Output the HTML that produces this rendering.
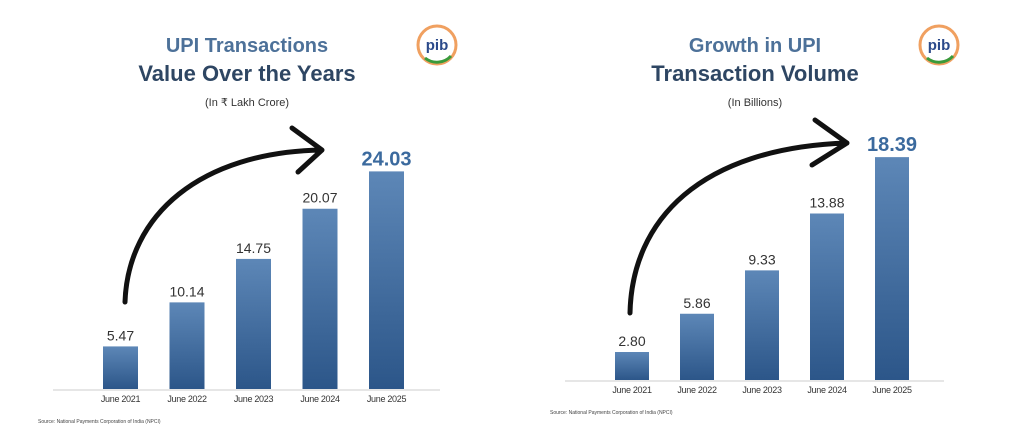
<!DOCTYPE html>
<html><head><meta charset="utf-8"><style>
body{margin:0;background:#fff;width:1024px;height:433px;overflow:hidden}
svg{display:block;font-family:"Liberation Sans",sans-serif}
</style></head><body>
<svg id="s" width="1024" height="433">
<defs><linearGradient id="g" x1="0" y1="0" x2="0" y2="1"><stop offset="0" stop-color="#5d87b7"/><stop offset="1" stop-color="#2c5689"/></linearGradient></defs>
</svg>
<script>
const categories=["June 2021","June 2022","June 2023","June 2024","June 2025"];
const valueSeries=[5.47,10.14,14.75,20.07,24.03];
const valueLabels=["5.47","10.14","14.75","20.07","24.03"];
const volumeSeries=[2.80,5.86,9.33,13.88,18.39];
const volumeLabels=["2.80","5.86","9.33","13.88","18.39"];
const NS="http://www.w3.org/2000/svg";
const svg=document.getElementById('s');
function mk(tag,attrs,parent,text){const e=document.createElementNS(NS,tag);for(const k in attrs)e.setAttribute(k,attrs[k]);if(text!==undefined)e.textContent=text;(parent||svg).appendChild(e);return e;}
function chart(cfg){
  const g=mk('g',{});
  
  
  const y=v=>cfg.zero-v*cfg.k;
  const x=i=>cfg.x0+i*cfg.step;
  const t1=mk('text',{x:cfg.cx,y:52,'text-anchor':'middle','font-size':20,'font-weight':'bold',fill:'#4d7199'},g,cfg.t1);
  
  
  const t2=mk('text',{x:cfg.cx,y:81,'text-anchor':'middle','font-size':22,'font-weight':'bold',fill:'#2e4663'},g,cfg.t2);
  
  
  const t3=mk('text',{x:cfg.cx,y:106,'text-anchor':'middle','font-size':11,fill:'#333'},g,cfg.t3);
  
  
  const ax=mk('line',{x1:cfg.ax0,x2:cfg.ax1,y1:cfg.base+1,y2:cfg.base+1,stroke:'#ccc','stroke-width':1},g);
  
  
  cfg.vals.forEach((v,i)=>{
    const b=mk('rect',{x:x(i),y:y(v),width:cfg.bw,height:cfg.base-y(v),fill:'url(#g)'},g);
    
    
    const last=i===cfg.vals.length-1;
    const l=mk('text',{x:x(i)+cfg.bw/2,y:y(v)-6,'text-anchor':'middle','font-size':last?20:14,'font-weight':last?'bold':'normal',fill:last?'#3b6a9e':'#333'},g,cfg.labels[i]);
    
    
    const c=mk('text',{x:x(i)+cfg.bw/2,y:cfg.base+13,'text-anchor':'middle','font-size':9,fill:'#333','letter-spacing':'-0.3'},g,categories[i]);
    
    
  });
  const a=mk('path',{d:cfg.arrow,fill:'none',stroke:'#111','stroke-width':5,'stroke-linecap':'round','stroke-linejoin':'round'},g);
  
  
  const src=mk('text',{x:cfg.ax0-15,y:cfg.base+34,'font-size':5,fill:'#444'},g,'Source: National Payments Corporation of India (NPCI)');
  
  
  const lg=mk('g',{},g);
  
  
  mk('circle',{cx:cfg.lx,cy:45,r:19,fill:'#fff',stroke:'#f0a060','stroke-width':3},lg);
  mk('path',{d:`M${cfg.lx-12},58 A19 19 0 0 0 ${cfg.lx+14},56`,fill:'none',stroke:'#3a9a3a','stroke-width':3},lg);
  mk('text',{x:cfg.lx,y:50,'text-anchor':'middle','font-size':15,'font-weight':'bold',fill:'#2b4a8a'},lg,'pib');
}
chart({name:'value-chart',vals:valueSeries,labels:valueLabels,zero:398,k:9.43,base:389,x0:103,step:66.5,bw:35,cx:247,ax0:53,ax1:440,
  t1:'UPI Transactions',t2:'Value Over the Years',t3:'(In ₹ Lakh Crore)',lx:437,
  arrow:'M125,302 C128,215 200,152 322,150 M292,128 L322,150 L298,172'});
chart({name:'volume-chart',vals:volumeSeries,labels:volumeLabels,zero:387,k:12.5,base:380,x0:615,step:65,bw:34,cx:755,ax0:565,ax1:944,
  t1:'Growth in UPI',t2:'Transaction Volume',t3:'(In Billions)',lx:939,
  arrow:'M630,313 C632,220 700,148 847,143 M815,120 L847,143 L812,165'});
</script>
</body></html>
